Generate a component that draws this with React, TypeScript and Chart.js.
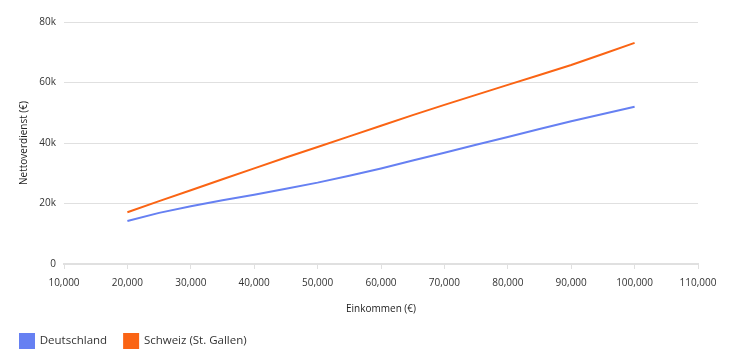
import React, { useEffect, useRef } from "react";
import { Chart, registerables } from "chart.js";

Chart.register(...registerables);

const incomes = [20000, 25000, 30000, 35000, 40000, 45000, 50000, 55000, 60000, 65000, 70000, 75000, 80000, 85000, 90000, 95000, 100000];
const deutschland = [14200, 16900, 19100, 21100, 22900, 24900, 26900, 29200, 31600, 34200, 36800, 39400, 42000, 44600, 47200, 49600, 52000];
const schweiz = [17100, 20800, 24400, 28000, 31600, 35200, 38700, 42200, 45700, 49200, 52600, 55900, 59200, 62500, 65800, 69400, 73100];
const seriesNames = ["Deutschland", "Schweiz (St. Gallen)"];
const xTitle = "Einkommen (€)";
const yTitle = "Nettoverdienst (€)";

const FONT = "'Open Sans', 'Noto Sans', sans-serif";

export default function App() {
  const ref = useRef<HTMLCanvasElement | null>(null);
  useEffect(() => {
    if (!ref.current) return;
    const chart = new Chart(ref.current, {
      type: "line",
      data: {
        datasets: [
          {
            label: seriesNames[0],
            data: incomes.map((x, i) => ({ x, y: deutschland[i] })),
            borderColor: "#6680f2",
            backgroundColor: "#6680f2",
            borderWidth: 2,
            pointRadius: 0,
            tension: 0,
          },
          {
            label: seriesNames[1],
            data: incomes.map((x, i) => ({ x, y: schweiz[i] })),
            borderColor: "#fa6414",
            backgroundColor: "#fa6414",
            borderWidth: 2,
            pointRadius: 0,
            tension: 0,
          },
        ],
      },
      options: {
        animation: false,
        responsive: true,
        maintainAspectRatio: false,
        layout: { padding: { top: 2, right: 36, left: -5, bottom: -8 } },
        plugins: {
          tooltip: { enabled: false },
          legend: {
            position: "bottom",
            align: "start",
            labels: {
              boxWidth: 14,
              boxHeight: 14,
              padding: 17,
              color: "#333",
              font: { family: FONT, size: 11.5 },
            },
          },
        },
        scales: {
          x: {
            type: "linear",
            min: 10000,
            max: 110000,
            ticks: {
              stepSize: 10000,
              color: "#333",
              font: { family: FONT, size: 10 },
              maxRotation: 0,
              padding: 8,
              callback: (v: any) => Number(v).toLocaleString("en-US"),
            },
            grid: { display: true, drawOnChartArea: false, drawTicks: true, tickLength: 5, color: "#e0e0e0" },
            border: { display: true, color: "#e0e0e0", width: 2 },
            title: { display: true, text: xTitle, color: "#222", font: { family: FONT, size: 10 }, padding: { top: 8, bottom: 2 } },
            afterFit: (s: any) => { s.height = 53; },
          },
          y: {
            min: 0,
            max: 80000,
            ticks: {
              stepSize: 20000,
              color: "#333",
              font: { family: FONT, size: 10 },
              padding: 8,
              callback: (v: any) => (v === 0 ? "0" : Number(v) / 1000 + "k"),
            },
            grid: { color: "#e0e0e0", drawTicks: false },
            border: { display: false },
            title: { display: true, text: yTitle, color: "#222", font: { family: FONT, size: 10 }, padding: { top: 15, bottom: 6 } },
            afterFit: (s: any) => { s.width = 61; },
          },
        },
      },
    });
    return () => chart.destroy();
  }, []);
  return (
    <div style={{ width: "726px", height: "342px" }}>
      <canvas ref={ref} />
    </div>
  );
}
